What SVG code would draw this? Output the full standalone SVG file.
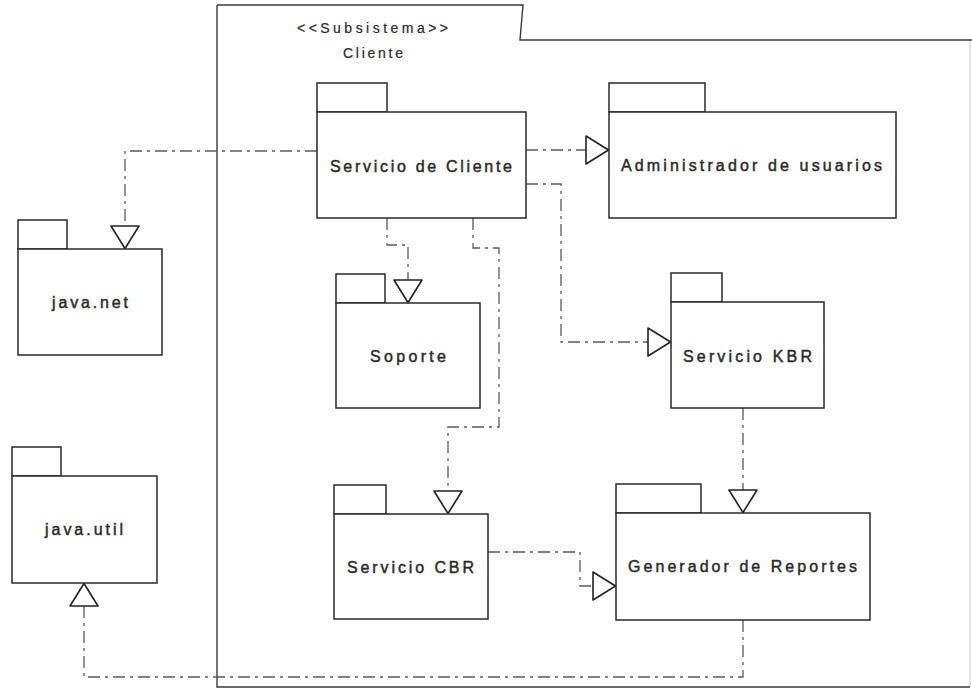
<svg xmlns="http://www.w3.org/2000/svg" width="972" height="689" viewBox="0 0 972 689">
  <style>
    .frame { fill: none; stroke: #3a3a3a; stroke-width: 1.4; }
    .edge { fill: none; stroke: #d0d0d0; stroke-width: 1.2; }
    .pkg { fill: #ffffff; stroke: #2a2a2a; stroke-width: 1.5; }
    .lbl { font-family: "Liberation Sans", Arial, sans-serif; font-size: 16px; fill: #2a2a2a; stroke: #2a2a2a; stroke-width: 0.45; }
    .sub { font-family: "Liberation Sans", Arial, sans-serif; font-size: 14px; fill: #2a2a2a; stroke: #2a2a2a; stroke-width: 0.2; }
    .dep { fill: none; stroke: #5a5a5a; stroke-width: 1.3; stroke-dasharray: 12 5 3 5; marker-end: url(#open); }
  </style>
  <defs>
    <marker id="open" viewBox="0 0 24 30" refX="24" refY="15" markerWidth="24" markerHeight="30" markerUnits="userSpaceOnUse" orient="auto">
      <polygon points="1,1 23.5,15 1,29" fill="#ffffff" stroke="#222222" stroke-width="1.6" stroke-linejoin="round"/>
    </marker>
  </defs>
  <rect width="972" height="689" fill="#ffffff"/>

  <!-- Subsystem frame -->
  <g id="subsistema-cliente">
    <path class="edge" d="M970,40 L970,687"/>
    <path class="frame" d="M217,5 L523,5 L520,40 L972,40 M970,687 L217,687 L217,5"/>
    <text class="sub" x="297" y="33" textLength="151" lengthAdjust="spacing">&lt;&lt;Subsistema&gt;&gt;</text>
    <text class="sub" x="343" y="58" textLength="60" lengthAdjust="spacing">Cliente</text>
  </g>

  <!-- Connectors -->
  <g id="connectors">
    <path class="dep" d="M317,151 L125,151 L125,249"/>
    <path class="dep" d="M526,150 L609,150"/>
    <path class="dep" d="M526,184 L561,184 L561,342 L671,342"/>
    <path class="dep" d="M387,218 L387,245 L408,245 L408,303"/>
    <path class="dep" d="M473,218 L473,248 L499,248 L499,427 L448,427 L448,514"/>
    <path class="dep" d="M743,408 L743,513"/>
    <path class="dep" d="M488,552 L580,552 L580,586 L616,586"/>
    <path class="dep" d="M743,620 L743,677 L84,677 L84,583"/>
  </g>

  <!-- Packages -->
  <g id="servicio-cliente">
    <rect class="pkg" x="317" y="83" width="70" height="29"/>
    <rect class="pkg" x="317" y="112" width="209" height="106"/>
    <text class="lbl" x="330" y="172" textLength="182" lengthAdjust="spacing">Servicio de Cliente</text>
  </g>

  <g id="administrador-usuarios">
    <rect class="pkg" x="609" y="83" width="96" height="29"/>
    <rect class="pkg" x="609" y="112" width="287" height="106"/>
    <text class="lbl" x="621" y="171" textLength="261" lengthAdjust="spacing">Administrador de usuarios</text>
  </g>

  <g id="java-net">
    <rect class="pkg" x="18" y="220" width="49" height="29"/>
    <rect class="pkg" x="18" y="249" width="144" height="106"/>
    <text class="lbl" x="52" y="308" textLength="76" lengthAdjust="spacing">java.net</text>
  </g>

  <g id="soporte">
    <rect class="pkg" x="336" y="274" width="49" height="29"/>
    <rect class="pkg" x="336" y="303" width="144" height="105"/>
    <text class="lbl" x="370" y="362" textLength="76" lengthAdjust="spacing">Soporte</text>
  </g>

  <g id="servicio-kbr">
    <rect class="pkg" x="671" y="273" width="51" height="29"/>
    <rect class="pkg" x="671" y="302" width="153" height="106"/>
    <text class="lbl" x="683" y="362" textLength="129" lengthAdjust="spacing">Servicio KBR</text>
  </g>

  <g id="java-util">
    <rect class="pkg" x="12" y="447" width="49" height="29"/>
    <rect class="pkg" x="12" y="476" width="145" height="107"/>
    <text class="lbl" x="45" y="535" textLength="78" lengthAdjust="spacing">java.util</text>
  </g>

  <g id="servicio-cbr">
    <rect class="pkg" x="334" y="485" width="52" height="29"/>
    <rect class="pkg" x="334" y="514" width="154" height="105"/>
    <text class="lbl" x="347" y="573" textLength="127" lengthAdjust="spacing">Servicio CBR</text>
  </g>

  <g id="generador-reportes">
    <rect class="pkg" x="616" y="484" width="85" height="29"/>
    <rect class="pkg" x="616" y="513" width="254" height="107"/>
    <text class="lbl" x="628" y="572" textLength="229" lengthAdjust="spacing">Generador de Reportes</text>
  </g>
</svg>
